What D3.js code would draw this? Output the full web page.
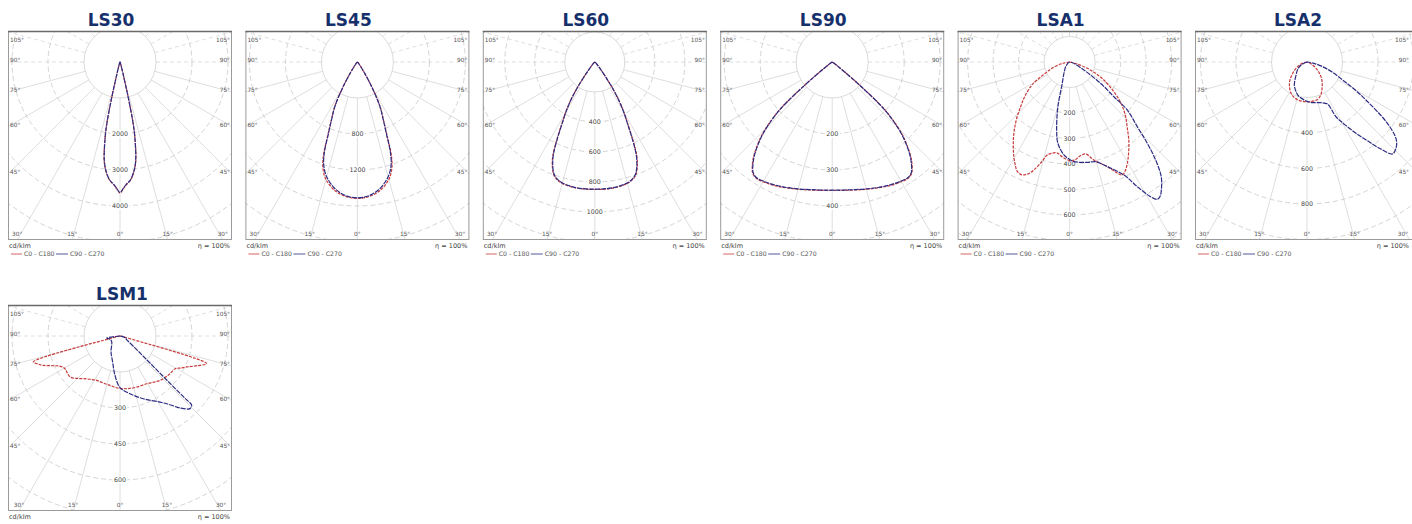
<!DOCTYPE html>
<html><head><meta charset="utf-8">
<script src="https://cdn.jsdelivr.net/npm/d3@7"></script>
<style>body{margin:0;background:#fff;} svg{display:block;}</style>
</head><body><svg id="c" width="1412" height="524"></svg>
<script>
// ---------------- DATA ----------------
const panelNames = ["LS30","LS45","LS60","LS90","LSA1","LSA2","LSM1"];
const stepValues = [1000, 400, 200, 100, 100, 200, 150];           // cd/klm per grid ring
const tickValues = [[2000,3000,4000],[800,1200],[400,600,800,1000],[200,300,400],[200,300,400,500,600],[400,600,800],[300,450,600]];
const sideAngleLabels = ["105°","90°","75°","60°","45°"];
const bottomAngleLabels = ["30°","15°","0°","15°","30°"];
const unitLabel = "cd/klm";
const effLabel = "η = 100%";
const seriesNames = ["C0 - C180","C90 - C270"];

// [gamma (deg, negative = left half), intensity cd/klm]
const LS30_C0 = [[-90,0],[-60,2],[-40,5],[-30,10],[-25,20],[-20,50],[-17,100],[-15,250],[-14,500],[-13,1100],[-12,1800],[-11,2200],[-9,2800],[-7,3100],[-5,3300],[-3,3410],[-1.5,3520],[0,3640],[1.5,3520],[3,3410],[5,3300],[7,3100],[9,2800],[11,2200],[12,1800],[13,1100],[14,500],[15,250],[17,100],[20,50],[25,20],[30,10],[40,5],[60,2],[90,0]];
const LS30_C90 = [[-90,0],[-60,2],[-40,5],[-30,10],[-25,20],[-20,50],[-17,100],[-15,240],[-14,480],[-13,1080],[-12,1780],[-11,2180],[-9,2780],[-7,3090],[-5,3290],[-3,3400],[-1.5,3510],[0,3630],[1.5,3510],[3,3400],[5,3290],[7,3090],[9,2780],[11,2180],[12,1780],[13,1080],[14,480],[15,240],[17,100],[20,50],[25,20],[30,10],[40,5],[60,2],[90,0]];

const LS45_C0 = [[-90,0],[-60,2],[-45,10],[-40,25],[-36,60],[-33,140],[-30,320],[-27,550],[-24,720],[-22,880],[-20,1100],[-18,1240],[-15,1350],[-10,1450],[-5,1500],[0,1515],[5,1500],[10,1450],[15,1350],[18,1240],[20,1100],[22,880],[24,720],[27,550],[30,320],[33,140],[36,60],[40,25],[45,10],[60,2],[90,0]];
const LS45_C90 = [[-90,0],[-60,2],[-45,10],[-40,25],[-36,60],[-33,140],[-30,315],[-27,545],[-24,710],[-22,860],[-20,1075],[-18,1210],[-15,1320],[-10,1430],[-5,1490],[0,1510],[5,1490],[10,1430],[15,1320],[18,1210],[20,1075],[22,860],[24,710],[27,545],[30,315],[33,140],[36,60],[40,25],[45,10],[60,2],[90,0]];

const LS60_C0 = [[-90,0],[-60,2],[-50,6],[-45,15],[-40,40],[-38,70],[-36,125],[-34,220],[-32,310],[-30,390],[-28,470],[-26,580],[-24,690],[-22,755],[-20,800],[-18,822],[-15,838],[-10,848],[-5,850],[0,850],[5,850],[10,848],[15,838],[18,822],[20,800],[22,755],[24,690],[26,580],[28,470],[30,390],[32,310],[34,220],[36,125],[38,70],[40,40],[45,15],[50,6],[60,2],[90,0]];
const LS60_C90 = [[-90,0],[-60,2],[-50,6],[-45,15],[-40,40],[-38,68],[-36,122],[-34,215],[-32,305],[-30,385],[-28,462],[-26,570],[-24,680],[-22,748],[-20,795],[-18,818],[-15,835],[-10,845],[-5,848],[0,848],[5,848],[10,845],[15,835],[18,818],[20,795],[22,748],[24,680],[26,570],[28,462],[30,385],[32,305],[34,215],[36,122],[38,68],[40,40],[45,15],[50,6],[60,2],[90,0]];

const LS90_C0 = [[-90,0],[-65,1],[-58,4],[-54,12],[-52,30],[-51,55],[-50,95],[-48,190],[-46,240],[-44,280],[-42,310],[-40,338],[-38,360],[-35.5,380],[-33,386],[-30,384],[-25,379],[-20,372],[-15,366],[-10,361],[-5,358],[0,357],[5,358],[10,361],[15,366],[20,372],[25,379],[30,384],[33,386],[35.5,380],[38,360],[40,338],[42,310],[44,280],[46,240],[48,190],[50,95],[51,55],[52,30],[54,12],[58,4],[65,1],[90,0]];
const LS90_C90 = [[-90,0],[-65,1],[-58,4],[-54,12],[-52,28],[-51,52],[-50,92],[-48,186],[-46,236],[-44,276],[-42,307],[-40,335],[-38,357],[-35.5,378],[-33,384],[-30,382],[-25,377],[-20,371],[-15,365],[-10,360],[-5,357],[0,356],[5,357],[10,360],[15,365],[20,371],[25,377],[30,382],[33,384],[35.5,378],[38,357],[40,335],[42,307],[44,276],[46,236],[48,186],[50,92],[51,52],[52,28],[54,12],[58,4],[65,1],[90,0]];

const LSA1_C0 = [[-90,0],[-80,20],[-77.5,36],[-70,75],[-66.5,95],[-60,160],[-57.7,181],[-52,225],[-47.6,260],[-43,305],[-38,355],[-34,395],[-30.5,431],[-28,455],[-25.5,476],[-22.7,480],[-20,465],[-18.3,446],[-15.5,405],[-13.5,375],[-10,362],[-7.7,360],[-4,375],[0,386],[3,385],[6,372],[9.9,366],[13.9,396],[19.8,436],[25,489],[27,480],[29.7,457],[33,425],[37.2,384],[41,345],[45.7,307],[50,270],[54,231],[58,190],[62.3,152],[66,115],[70.4,74],[75.4,31],[80,12],[90,0]];
const LSA1_C90 = [[-90,0],[-60,5],[-40,24],[-25,55],[-19,88],[-14.7,181],[-10.8,271],[-8.2,322],[-3.5,365],[0,382],[2.5,391],[10,400],[14.6,404],[19.8,436],[25.7,492],[28.5,556],[31,616],[32.6,639],[34,635],[35.6,618],[38.6,576],[41.3,511],[43.7,441],[46.3,367],[50.2,294],[51.9,221],[55.5,147],[60.8,64],[70,20],[80,5],[90,0]];

const LSA2_C0 = [[-90,0],[-75,25],[-60,71],[-50,110],[-43.4,140],[-35,172],[-27,198],[-20,212],[-13.8,220],[-7,223],[0,224],[8,223],[16,219],[23,200],[29.7,171],[37,142],[43.6,114],[50,85],[55,62],[65,30],[75,10],[90,0]];
const LSA2_C90 = [[-90,0],[-63,38],[-50,70],[-40,96],[-28.8,148],[-22,172],[-15.8,193],[-10,205],[-4,215],[0,222],[4,227],[8,231],[12,234],[16,238],[20,244],[23,252],[26.2,264],[27.9,349],[31,410],[34.5,487],[37.5,560],[40,634],[43,708],[45.9,698],[48,680],[49.8,652],[53,558],[57.2,395],[60,310],[63.2,225],[68,155],[73.3,92],[80,35],[90,0]];

const LSM1_C0 = [[-90,0],[-80,5],[-76,30],[-73.3,377],[-71,360],[-69,342],[-66,305],[-63.4,280],[-59.3,267],[-55,268],[-50.6,269],[-45,250],[-40.7,234],[-34,218],[-27.8,209],[-20,208],[-11.5,210],[-4,216],[3.6,220],[10,222],[18,224],[29.2,228],[36,238],[42.1,249],[48,256],[53,261],[59.3,267],[62,285],[65.1,306],[69,345],[72.3,379],[75,40],[80,5],[90,0]];
const LSM1_C90 = [[-90,0],[-81,56],[-70,42],[-55,42],[-41.7,52],[-30,75],[-15.7,113],[-7.3,165],[0,215],[9.8,244],[20.4,279],[31.2,322],[36,354],[39.8,390],[43.9,420],[46,415],[46.2,377],[46.5,300],[47.4,201],[50,104],[58,39],[75,18],[90,0]];

const c0Series  = [LS30_C0, LS45_C0, LS60_C0, LS90_C0, LSA1_C0, LSA2_C0, LSM1_C0];
const c90Series = [LS30_C90, LS45_C90, LS60_C90, LS90_C90, LSA1_C90, LSA2_C90, LSM1_C90];

// ---------------- LAYOUT ----------------
const PAGE_W = 1412, PAGE_H = 524;
const svg = d3.select("#c");
const colX0 = 8, colStep = 237.4, boxW = 224;
const rows = [{top:31, h:209, titleY:26, titleDx:-9}, {top:305, h:206, titleY:299.5, titleDx:2}];
const panelCol = [0,1,2,3,4,5,0], panelRow = [0,0,0,0,0,0,1];
const ringPx = [36,36,30,36,25.5,35.5,36];
const RED = "#c83a3a", BLUE = "#2c2c82";
const FONT = "'DejaVu Sans', Verdana, sans-serif";
const deg = Math.PI/180;

panelNames.forEach((name, i) => {
  const row = rows[panelRow[i]];
  const x0 = colX0 + panelCol[i]*colStep, y0 = row.top;
  const x1 = x0 + boxW, y1 = y0 + row.h;
  const xr = Math.min(x1, PAGE_W - 1);          // keep right-aligned texts on the page
  const cx = x0 + boxW/2, cy = y0 + 31;
  const g = svg.append("g");

  g.append("text").attr("x", cx + row.titleDx).attr("y", row.titleY)
    .attr("text-anchor","middle").attr("font-family",FONT).attr("font-weight","bold")
    .attr("font-size",17).attr("fill","#16306c").text(name);

  const clipId = "clip" + i;
  svg.append("clipPath").attr("id", clipId).append("rect")
    .attr("x", x0).attr("y", y0).attr("width", boxW).attr("height", row.h);

  const inner = g.append("g").attr("clip-path", `url(#${clipId})`);
  inner.append("rect").attr("x",x0).attr("y",y0).attr("width",boxW).attr("height",row.h).attr("fill","#fff");

  const r = d3.scaleLinear().domain([0, stepValues[i]]).range([0, ringPx[i]]);
  const maxR = 270;
  const ringVals = d3.range(stepValues[i], r.invert(maxR), stepValues[i]);
  const pg = inner.append("g").attr("transform", `translate(${cx},${cy})`);

  // radial lines
  d3.range(-180, 181, 15).forEach(a => {
    const s = Math.sin(a*deg), c = Math.cos(a*deg);
    pg.append("line")
      .attr("x1", r(stepValues[i])*s).attr("y1", r(stepValues[i])*c)
      .attr("x2", maxR*s).attr("y2", maxR*c)
      .attr("stroke", "#d6d6d6").attr("stroke-width", 0.8)
      .attr("stroke-dasharray", Math.abs(a) >= 90 ? "4,3" : null);
  });
  // rings
  pg.selectAll("circle.ring").data(ringVals).join("circle")
    .attr("r", d => r(d)).attr("fill","none")
    .attr("stroke", (d,k) => k === 0 ? "#d0d0d0" : "#c9c9c9")
    .attr("stroke-width", 0.8)
    .attr("stroke-dasharray", (d,k) => k === 0 ? null : "5,3");

  const line = d3.lineRadial()
    .angle(d => Math.PI - d[0]*deg)
    .radius(d => r(d[1]))
    .curve(d3.curveCatmullRom.alpha(0.5));

  // ring value labels
  tickValues[i].forEach(v => {
    const ty = r(v);
    const txt = String(v);
    const w = txt.length * 4 + 3;
    pg.append("rect").attr("x", -w/2).attr("y", ty - 3.5).attr("width", w).attr("height", 7).attr("fill", "#fff");
    pg.append("text").attr("x", 0).attr("y", ty).attr("dy", "0.35em")
      .attr("text-anchor","middle").attr("font-family",FONT).attr("font-size",6.3)
      .attr("fill","#444").text(txt);
  });

  pg.append("path").attr("d", line(c0Series[i])).attr("fill","none")
    .attr("stroke", RED).attr("stroke-width", 1.2).attr("stroke-dasharray","3,1.2");
  pg.append("path").attr("d", line(c90Series[i])).attr("fill","none")
    .attr("stroke", BLUE).attr("stroke-width", 1.2).attr("stroke-dasharray","5,1");

  // angle labels on the sides
  [105,90,75,60,45].forEach((a, k) => {
    const t = (boxW/2) / Math.sin(a*deg);
    let yy = cy + t*Math.cos(a*deg) - 2;
    yy = Math.max(y0 + 9, Math.min(y1 - 12, yy));
    [[x0 + 2, "start"], [xr - 2, "end"]].forEach(([xx, anchor]) => {
      g.append("text").attr("x", xx).attr("y", yy).attr("dy","0.35em")
        .attr("text-anchor", anchor).attr("font-family",FONT).attr("font-size",5.8)
        .attr("fill","#555").text(sideAngleLabels[k]);
    });
  });
  // angle labels on the bottom
  [-30,-15,0,15,30].forEach((a, k) => {
    const t = (y1 - cy) / Math.cos(a*deg);
    let xx = cx + t*Math.sin(a*deg);
    xx = Math.max(x0 + 8, Math.min(xr - 8, xx));
    g.append("text").attr("x", xx).attr("y", y1 - 6).attr("dy","0.35em")
      .attr("text-anchor","middle").attr("font-family",FONT).attr("font-size",5.8)
      .attr("fill","#555").text(bottomAngleLabels[k]);
  });

  // frame
  g.append("rect").attr("x",x0+0.5).attr("y",y0+0.5).attr("width",boxW-1).attr("height",row.h-1)
    .attr("fill","none").attr("stroke","#9a9a9a").attr("stroke-width",1);
  g.append("line").attr("x1",x0).attr("x2",x1).attr("y1",y0+0.5).attr("y2",y0+0.5)
    .attr("stroke","#6a6a6a").attr("stroke-width",1.5);

  // legend
  const legY = Math.min(y1 + 8, PAGE_H - 3);
  g.append("text").attr("x", x0+1).attr("y", legY).attr("font-family",FONT).attr("font-size",6.5)
    .attr("fill","#444").text(unitLabel);
  g.append("text").attr("x", xr-2).attr("y", legY).attr("text-anchor","end").attr("font-family",FONT)
    .attr("font-size",6.5).attr("fill","#444").text(effLabel);
  const ly = y1 + 14;
  if (ly + 3 <= PAGE_H) {   // second legend line lies below the page for the lower row, as in the source
    [[RED, 3, 16, seriesNames[0]], [BLUE, 48, 62, seriesNames[1]]].forEach(([col, a, b, lab]) => {
      g.append("line").attr("x1", x0+a).attr("x2", x0+b-2).attr("y1", ly).attr("y2", ly)
        .attr("stroke", col).attr("stroke-width", 0.8);
      g.append("text").attr("x", x0+b).attr("y", ly+2).attr("font-family",FONT).attr("font-size",6.2)
        .attr("fill","#555").text(lab);
    });
  }
});
</script></body></html>
